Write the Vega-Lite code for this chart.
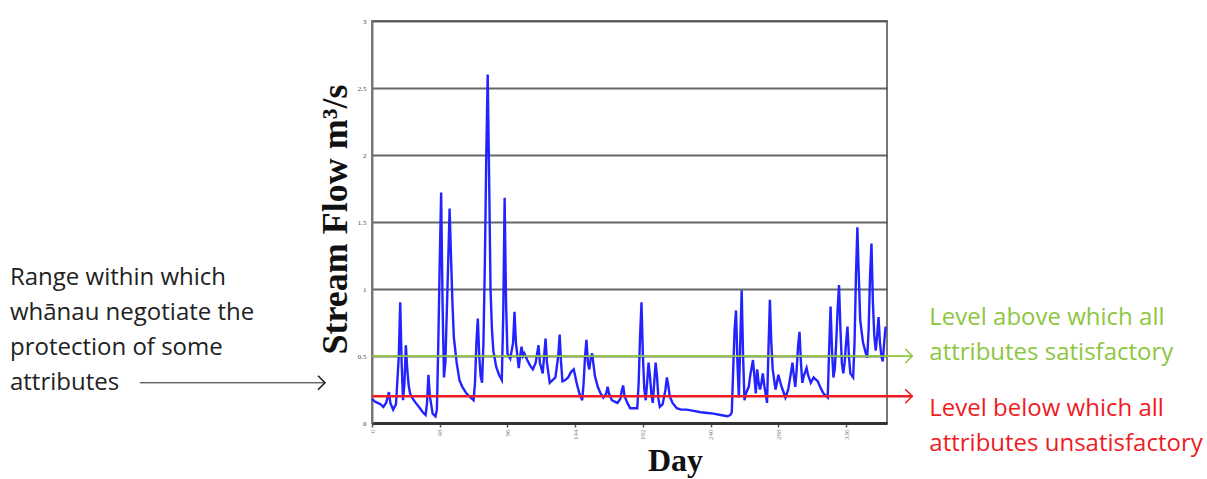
{
  "$schema": "https://vega.github.io/schema/vega-lite/v6.json",
  "width": 515,
  "height": 402,
  "autosize": {"type": "none"},
  "padding": {"left": 372, "top": 21, "right": 320, "bottom": 56},
  "background": "white",
  "config": {
    "view": {"stroke": "#777", "strokeWidth": 2},
    "font": "Open Sans"
  },
  "datasets": {
    "flow": [
      {"day": 0, "flow": 0.18}, {"day": 2, "flow": 0.16}, {"day": 4, "flow": 0.15}, {"day": 6, "flow": 0.14},
      {"day": 8, "flow": 0.12}, {"day": 10, "flow": 0.15}, {"day": 12, "flow": 0.23}, {"day": 13, "flow": 0.15},
      {"day": 15, "flow": 0.10}, {"day": 17, "flow": 0.14}, {"day": 19, "flow": 0.50}, {"day": 20, "flow": 0.90},
      {"day": 21, "flow": 0.45}, {"day": 22, "flow": 0.17}, {"day": 23, "flow": 0.30}, {"day": 24, "flow": 0.58},
      {"day": 25, "flow": 0.40}, {"day": 26, "flow": 0.28}, {"day": 27, "flow": 0.22}, {"day": 29, "flow": 0.18},
      {"day": 31, "flow": 0.15}, {"day": 34, "flow": 0.11}, {"day": 36, "flow": 0.08}, {"day": 38, "flow": 0.06},
      {"day": 39, "flow": 0.15}, {"day": 40, "flow": 0.36}, {"day": 41, "flow": 0.20}, {"day": 43, "flow": 0.07},
      {"day": 45, "flow": 0.05}, {"day": 46, "flow": 0.10}, {"day": 47, "flow": 0.60}, {"day": 48, "flow": 1.20},
      {"day": 49, "flow": 1.72}, {"day": 50, "flow": 0.90}, {"day": 51, "flow": 0.34}, {"day": 52, "flow": 0.45},
      {"day": 54, "flow": 1.20}, {"day": 55, "flow": 1.60}, {"day": 56, "flow": 1.24}, {"day": 57, "flow": 0.90},
      {"day": 58, "flow": 0.64}, {"day": 60, "flow": 0.45}, {"day": 62, "flow": 0.32}, {"day": 64, "flow": 0.27},
      {"day": 67, "flow": 0.22}, {"day": 70, "flow": 0.19}, {"day": 72, "flow": 0.17}, {"day": 73, "flow": 0.30},
      {"day": 74, "flow": 0.60}, {"day": 75, "flow": 0.78}, {"day": 76, "flow": 0.50}, {"day": 77, "flow": 0.35},
      {"day": 78, "flow": 0.30}, {"day": 79, "flow": 0.60}, {"day": 80, "flow": 1.20}, {"day": 81, "flow": 2.00},
      {"day": 82, "flow": 2.60}, {"day": 83, "flow": 1.84}, {"day": 84, "flow": 1.00}, {"day": 85, "flow": 0.70},
      {"day": 86, "flow": 0.54}, {"day": 88, "flow": 0.42}, {"day": 90, "flow": 0.36}, {"day": 92, "flow": 0.32},
      {"day": 93, "flow": 0.80}, {"day": 94, "flow": 1.68}, {"day": 95, "flow": 0.90}, {"day": 96, "flow": 0.52},
      {"day": 98, "flow": 0.48}, {"day": 100, "flow": 0.60}, {"day": 101, "flow": 0.83}, {"day": 102, "flow": 0.60},
      {"day": 104, "flow": 0.41}, {"day": 105, "flow": 0.50}, {"day": 106, "flow": 0.57}, {"day": 107, "flow": 0.50},
      {"day": 108, "flow": 0.52}, {"day": 110, "flow": 0.47}, {"day": 112, "flow": 0.43}, {"day": 114, "flow": 0.40},
      {"day": 116, "flow": 0.45}, {"day": 118, "flow": 0.58}, {"day": 119, "flow": 0.45}, {"day": 121, "flow": 0.37},
      {"day": 122, "flow": 0.50}, {"day": 123, "flow": 0.63}, {"day": 124, "flow": 0.45}, {"day": 126, "flow": 0.30},
      {"day": 128, "flow": 0.32}, {"day": 130, "flow": 0.34}, {"day": 132, "flow": 0.50}, {"day": 133, "flow": 0.66},
      {"day": 134, "flow": 0.45}, {"day": 135, "flow": 0.31}, {"day": 137, "flow": 0.32}, {"day": 139, "flow": 0.34},
      {"day": 141, "flow": 0.38}, {"day": 143, "flow": 0.40}, {"day": 145, "flow": 0.30}, {"day": 147, "flow": 0.22},
      {"day": 149, "flow": 0.17}, {"day": 150, "flow": 0.30}, {"day": 151, "flow": 0.50}, {"day": 152, "flow": 0.62},
      {"day": 153, "flow": 0.45}, {"day": 154, "flow": 0.40}, {"day": 155, "flow": 0.48}, {"day": 156, "flow": 0.52},
      {"day": 158, "flow": 0.35}, {"day": 160, "flow": 0.27}, {"day": 162, "flow": 0.22}, {"day": 164, "flow": 0.19},
      {"day": 166, "flow": 0.22}, {"day": 167, "flow": 0.27}, {"day": 168, "flow": 0.22}, {"day": 170, "flow": 0.17},
      {"day": 172, "flow": 0.16}, {"day": 174, "flow": 0.15}, {"day": 176, "flow": 0.18}, {"day": 177, "flow": 0.24},
      {"day": 178, "flow": 0.28}, {"day": 179, "flow": 0.20}, {"day": 181, "flow": 0.15}, {"day": 183, "flow": 0.11},
      {"day": 186, "flow": 0.11}, {"day": 188, "flow": 0.11}, {"day": 189, "flow": 0.30}, {"day": 190, "flow": 0.65},
      {"day": 191, "flow": 0.90}, {"day": 192, "flow": 0.50}, {"day": 193, "flow": 0.25}, {"day": 194, "flow": 0.17},
      {"day": 195, "flow": 0.30}, {"day": 196, "flow": 0.45}, {"day": 197, "flow": 0.35}, {"day": 198, "flow": 0.22},
      {"day": 199, "flow": 0.15}, {"day": 200, "flow": 0.30}, {"day": 201, "flow": 0.45}, {"day": 202, "flow": 0.35},
      {"day": 203, "flow": 0.18}, {"day": 204, "flow": 0.12}, {"day": 206, "flow": 0.14}, {"day": 208, "flow": 0.25},
      {"day": 209, "flow": 0.34}, {"day": 210, "flow": 0.28}, {"day": 211, "flow": 0.20}, {"day": 213, "flow": 0.15},
      {"day": 216, "flow": 0.11}, {"day": 219, "flow": 0.10}, {"day": 223, "flow": 0.10}, {"day": 228, "flow": 0.09},
      {"day": 233, "flow": 0.08}, {"day": 238, "flow": 0.075}, {"day": 242, "flow": 0.07}, {"day": 247, "flow": 0.06},
      {"day": 252, "flow": 0.05}, {"day": 254, "flow": 0.06}, {"day": 255, "flow": 0.08}, {"day": 256, "flow": 0.40},
      {"day": 257, "flow": 0.70}, {"day": 258, "flow": 0.84}, {"day": 259, "flow": 0.45}, {"day": 260, "flow": 0.19},
      {"day": 261, "flow": 0.60}, {"day": 262, "flow": 0.99}, {"day": 263, "flow": 0.50}, {"day": 264, "flow": 0.17},
      {"day": 265, "flow": 0.22}, {"day": 267, "flow": 0.27}, {"day": 268, "flow": 0.35}, {"day": 270, "flow": 0.47},
      {"day": 271, "flow": 0.35}, {"day": 272, "flow": 0.22}, {"day": 273, "flow": 0.40}, {"day": 274, "flow": 0.30},
      {"day": 275, "flow": 0.25}, {"day": 276, "flow": 0.30}, {"day": 277, "flow": 0.37}, {"day": 278, "flow": 0.28},
      {"day": 280, "flow": 0.15}, {"day": 281, "flow": 0.55}, {"day": 282, "flow": 0.92}, {"day": 283, "flow": 0.60},
      {"day": 284, "flow": 0.40}, {"day": 286, "flow": 0.25}, {"day": 287, "flow": 0.30}, {"day": 288, "flow": 0.36},
      {"day": 290, "flow": 0.28}, {"day": 292, "flow": 0.22}, {"day": 293, "flow": 0.19}, {"day": 295, "flow": 0.25},
      {"day": 297, "flow": 0.38}, {"day": 298, "flow": 0.45}, {"day": 299, "flow": 0.35}, {"day": 300, "flow": 0.27},
      {"day": 301, "flow": 0.40}, {"day": 302, "flow": 0.58}, {"day": 303, "flow": 0.68}, {"day": 304, "flow": 0.45},
      {"day": 305, "flow": 0.30}, {"day": 306, "flow": 0.35}, {"day": 308, "flow": 0.41}, {"day": 309, "flow": 0.36},
      {"day": 311, "flow": 0.30}, {"day": 313, "flow": 0.34}, {"day": 315, "flow": 0.32}, {"day": 316, "flow": 0.31},
      {"day": 318, "flow": 0.26}, {"day": 320, "flow": 0.22}, {"day": 322, "flow": 0.20}, {"day": 323, "flow": 0.19},
      {"day": 324, "flow": 0.55}, {"day": 325, "flow": 0.87}, {"day": 326, "flow": 0.55}, {"day": 327, "flow": 0.34},
      {"day": 328, "flow": 0.40}, {"day": 329, "flow": 0.60}, {"day": 330, "flow": 0.85}, {"day": 331, "flow": 1.03},
      {"day": 332, "flow": 0.70}, {"day": 333, "flow": 0.45}, {"day": 334, "flow": 0.37}, {"day": 335, "flow": 0.45},
      {"day": 336, "flow": 0.60}, {"day": 337, "flow": 0.72}, {"day": 338, "flow": 0.50}, {"day": 339, "flow": 0.37},
      {"day": 341, "flow": 0.34}, {"day": 342, "flow": 0.60}, {"day": 343, "flow": 1.10}, {"day": 344, "flow": 1.46},
      {"day": 345, "flow": 1.10}, {"day": 346, "flow": 0.77}, {"day": 348, "flow": 0.60}, {"day": 350, "flow": 0.52},
      {"day": 351, "flow": 0.49}, {"day": 352, "flow": 0.70}, {"day": 353, "flow": 1.10}, {"day": 354, "flow": 1.34},
      {"day": 355, "flow": 0.90}, {"day": 356, "flow": 0.65}, {"day": 357, "flow": 0.54}, {"day": 358, "flow": 0.65},
      {"day": 359, "flow": 0.79}, {"day": 360, "flow": 0.60}, {"day": 361, "flow": 0.50}, {"day": 362, "flow": 0.46},
      {"day": 363, "flow": 0.60}, {"day": 364, "flow": 0.72}
    ],
    "rules": [
      {"group": "above", "x": 0, "x2": 383, "y": 0.5},
      {"group": "below", "x": 0, "x2": 383, "y": 0.2},
      {"group": "range", "x": -164.5, "x2": -33.3, "y": 0.30}
    ],
    "heads": [
      {"group": "above", "x": 380.4, "y": 0.5},
      {"group": "below", "x": 380.4, "y": 0.2},
      {"group": "range", "x": -35.8, "y": 0.30}
    ],
    "notes": [
      {"group": "range", "x": -256.6, "y": 1.082, "text": "Range within which"},
      {"group": "range", "x": -256.6, "y": 0.821, "text": "whānau negotiate the"},
      {"group": "range", "x": -256.6, "y": 0.560, "text": "protection of some"},
      {"group": "range", "x": -256.6, "y": 0.299, "text": "attributes"},
      {"group": "above", "x": 395, "y": 0.784, "text": "Level above which all"},
      {"group": "above", "x": 395, "y": 0.522, "text": "attributes satisfactory"},
      {"group": "below", "x": 395, "y": 0.104, "text": "Level below which all"},
      {"group": "below", "x": 395, "y": -0.157, "text": "attributes unsatisfactory"}
    ]
  },
  "layer": [
    {
      "data": {"name": "flow"},
      "mark": {"type": "line", "color": "#2323ff", "strokeWidth": 2.4, "interpolate": "linear"},
      "encoding": {
        "x": {
          "field": "day", "type": "quantitative",
          "scale": {"domain": [0, 365], "nice": false, "zero": false},
          "axis": {
            "title": "Day",
            "titleFont": "Liberation Serif", "titleFontSize": 32, "titleFontWeight": "bold", "titleColor": "#111",
            "titleX": 303, "titleY": 22,
            "values": [0, 12, 24, 36, 48, 60, 72, 84, 96, 108, 120, 132, 144, 156, 168, 180, 192, 204, 216, 228, 240, 252, 264, 276, 288, 300, 312, 324, 336, 348, 360],
            "labelAngle": -90, "labelFontSize": 7, "labelColor": "#888", "labelFont": "Liberation Serif",
            "domainColor": "#333", "domainWidth": 3,
            "tickColor": "#555", "tickSize": 4, "tickWidth": 1.5,
            "grid": false
          }
        },
        "y": {
          "field": "flow", "type": "quantitative",
          "scale": {"domain": [0, 3], "nice": false},
          "axis": {
            "title": "Stream Flow m³/s",
            "titleFont": "Liberation Serif", "titleFontSize": 36, "titleFontWeight": "bold", "titleColor": "#111",
            "titleX": -37, "titleY": 198, "titleAngle": -90, "titleBaseline": "middle", "titleAlign": "center",
            "values": [0, 0.5, 1, 1.5, 2, 2.5, 3],
            "format": "~g",
            "labelFontSize": 7, "labelColor": "#444", "labelFont": "Liberation Serif", "labelPadding": 6,
            "ticks": false,
            "domainColor": "#777", "domainWidth": 2,
            "grid": true, "gridColor": "#555", "gridWidth": 2, "gridOpacity": 0.9
          }
        }
      }
    },
    {
      "data": {"name": "rules"},
      "mark": {"type": "rule"},
      "encoding": {
        "x": {"field": "x", "type": "quantitative"},
        "x2": {"field": "x2"},
        "y": {"field": "y", "type": "quantitative"},
        "color": {"field": "group", "type": "nominal", "scale": {"domain": ["range", "above", "below"], "range": ["#222222", "#8dc63f", "#ee1c25"]}, "legend": null},
        "strokeWidth": {"field": "group", "type": "nominal", "scale": {"domain": ["range", "above", "below"], "range": [1, 2.5, 2.5]}, "legend": null}
      }
    },
    {
      "data": {"name": "heads"},
      "mark": {"type": "point", "shape": "M -0.5 -1 L 0.5 0 L -0.5 1", "filled": false, "size": 196, "strokeWidth": 1.6, "opacity": 1},
      "encoding": {
        "x": {"field": "x", "type": "quantitative"},
        "y": {"field": "y", "type": "quantitative"},
        "color": {"field": "group", "type": "nominal", "scale": {"domain": ["range", "above", "below"], "range": ["#222222", "#8dc63f", "#ee1c25"]}, "legend": null}
      }
    },
    {
      "data": {"name": "notes"},
      "mark": {"type": "text", "align": "left", "baseline": "middle", "fontSize": 24, "font": "Open Sans"},
      "encoding": {
        "x": {"field": "x", "type": "quantitative"},
        "y": {"field": "y", "type": "quantitative"},
        "text": {"field": "text"},
        "color": {"field": "group", "type": "nominal", "scale": {"domain": ["range", "above", "below"], "range": ["#222222", "#8dc63f", "#ee1c25"]}, "legend": null}
      }
    }
  ]
}
